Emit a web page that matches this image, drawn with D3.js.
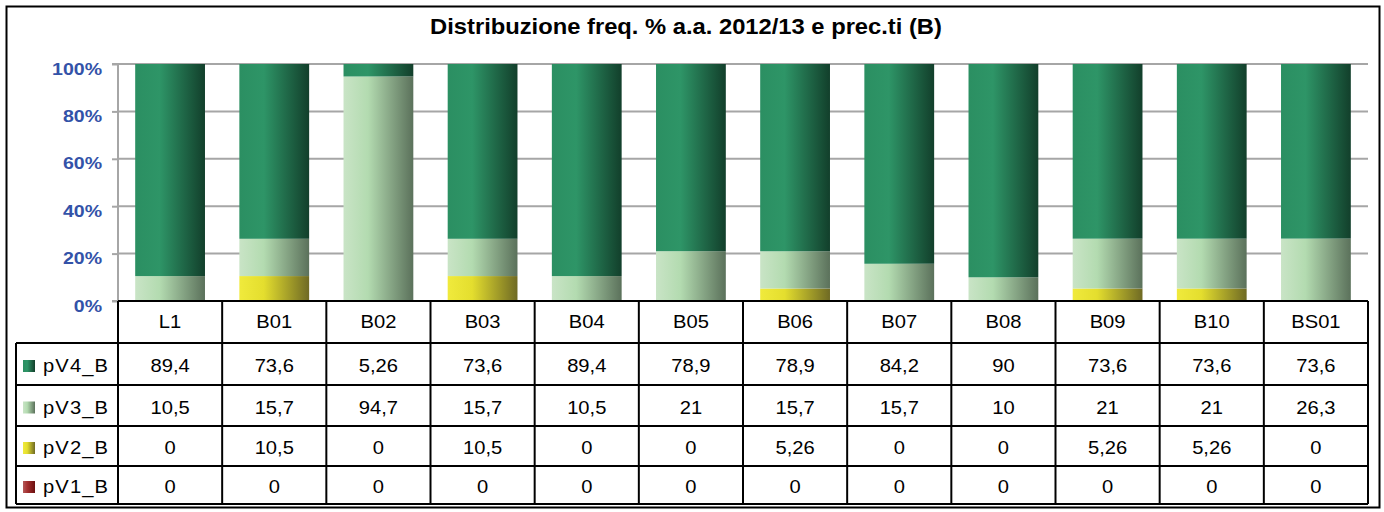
<!DOCTYPE html>
<html><head><meta charset="utf-8">
<script src="https://cdn.jsdelivr.net/npm/d3@7"></script>
<style>body{margin:0;background:#fff}svg{display:block}</style>
</head><body><svg id="c" width="1384" height="512"></svg>
<script>
const categories = ["L1","B01","B02","B03","B04","B05","B06","B07","B08","B09","B10","BS01"];
const pV4_B = [89.4,73.6,5.26,73.6,89.4,78.9,78.9,84.2,90,73.6,73.6,73.6];
const pV3_B = [10.5,15.7,94.7,15.7,10.5,21,15.7,15.7,10,21,21,26.3];
const pV2_B = [0,10.5,0,10.5,0,0,5.26,0,0,5.26,5.26,0];
const pV1_B = [0,0,0,0,0,0,0,0,0,0,0,0];
const seriesNames = ["pV4_B","pV3_B","pV2_B","pV1_B"];
const seriesValues = [pV4_B,pV3_B,pV2_B,pV1_B];
const yTicks = [0,0.2,0.4,0.6,0.8,1];
const title = "Distribuzione freq. % a.a. 2012/13 e prec.ti (B)";

(function(){
const FONT = "Liberation Sans, Arial, sans-serif";
const grads = {
  pV4_B:["#2b8f62","#2e9567","#123f2b"],
  pV3_B:["#c9e4c6","#b3dbb0","#5b715b"],
  pV2_B:["#f0ea3c","#e4de2e","#6f6a24"],
  pV1_B:["#b35a5a","#a53030","#6b1010"]
};

const svg = d3.select("#c");
const defs = svg.append("defs");
Object.entries(grads).forEach(([k,c])=>{
  const g = defs.append("linearGradient").attr("id","g_"+k).attr("x1","0").attr("x2","1").attr("y1","0").attr("y2","0");
  g.append("stop").attr("offset","0").attr("stop-color",c[0]);
  g.append("stop").attr("offset","0.35").attr("stop-color",c[1]);
  g.append("stop").attr("offset","1").attr("stop-color",c[2]);
});

svg.append("rect").attr("x",6.5).attr("y",6.5).attr("width",1373).attr("height",501).attr("fill","#fff").attr("stroke","#000").attr("stroke-width",2);

svg.append("text").attr("transform","translate(686,34) scale(1.08,1)").attr("text-anchor","middle")
  .attr("font-family",FONT).attr("font-weight","bold").attr("font-size",22).text(title);

const pL=118, pR=1368, pT=64, pB=301;
const x = d3.scaleBand().domain(categories).range([pL,pR]).paddingInner(0.33).paddingOuter(0.165);
const xc = d3.scaleBand().domain(categories).range([pL,pR]);
const y = d3.scaleLinear().domain([0,1]).range([pB,pT]);

svg.append("g").selectAll("line").data(yTicks.filter(d=>d>0)).join("line")
  .attr("x1",pL).attr("x2",pR).attr("y1",d=>y(d)).attr("y2",d=>y(d))
  .attr("stroke","#a6a6a6").attr("stroke-width",2);

const ya = svg.append("g").attr("transform",`translate(${pL},0)`)
  .call(d3.axisLeft(y).tickValues(yTicks).tickFormat(d3.format(".0%")).tickSize(6).tickPadding(0));
ya.select(".domain").attr("stroke","#a6a6a6").attr("stroke-width",2).attr("d",`M-6,${pT}H0V${pB}H-6`);
ya.selectAll(".tick line").attr("stroke","#a6a6a6").attr("stroke-width",2);
ya.selectAll(".tick text").attr("fill","#3352a8").attr("font-weight","bold").attr("font-size",17)
  .attr("font-family",FONT).attr("x",null).attr("dy",null)
  .attr("transform","translate(-16,10) scale(1.15,1)");

const rows = categories.map((c,i)=>{const o={cat:c}; seriesNames.forEach((s,j)=>o[s]=seriesValues[j][i]); return o;});
const stack = d3.stack().keys(["pV1_B","pV2_B","pV3_B","pV4_B"]).offset(d3.stackOffsetExpand);
const st = stack(rows);
svg.append("g").selectAll("g").data(st).join("g").attr("fill",d=>`url(#g_${d.key})`)
  .selectAll("rect").data(d=>d).join("rect")
  .attr("x",d=>x(d.data.cat)).attr("width",x.bandwidth())
  .attr("y",d=>y(d[1])).attr("height",d=>Math.max(0,y(d[0])-y(d[1])));

const rowH = [301,343,385,426,466,504];
const legL = 16;
const SX = 1.12;
const tg = svg.append("g").attr("font-family",FONT).attr("font-size",18);
const ln = (x1,y1,x2,y2)=>tg.append("line").attr("x1",x1).attr("y1",y1).attr("x2",x2).attr("y2",y2).attr("stroke","#000").attr("stroke-width",2);
ln(pL,rowH[0],pR,rowH[0]);
for(let r=1;r<rowH.length;r++) ln(legL,rowH[r],pR,rowH[r]);
ln(legL,rowH[1],legL,rowH[5]);
categories.forEach(c=>ln(xc(c),rowH[0],xc(c),rowH[5]));
ln(pR,rowH[0],pR,rowH[5]);

tg.selectAll("text.cat").data(categories).join("text").attr("class","cat")
  .attr("transform",d=>`translate(${xc(d)+xc.bandwidth()/2},${(rowH[0]+rowH[1])/2}) scale(${SX},1)`).attr("dy","0.34em")
  .attr("text-anchor","middle").text(d=>d);

const fmt = v=>String(v).replace(".",",");
seriesNames.forEach((s,j)=>{
  const yc = (rowH[j+1]+rowH[j+2])/2 + 2;
  tg.append("rect").attr("x",23).attr("y",yc-6).attr("width",12).attr("height",12).attr("fill",`url(#g_${s})`);
  tg.append("text").attr("transform",`translate(43,${yc}) scale(${SX},1)`).attr("dy","0.36em").text(s).attr("letter-spacing","1px");
  tg.selectAll(null).data(seriesValues[j]).join("text")
    .attr("transform",(d,i)=>`translate(${xc(categories[i])+xc.bandwidth()/2},${yc}) scale(${SX},1)`).attr("dy","0.36em")
    .attr("text-anchor","middle").text(d=>fmt(d));
});
})();
</script></body></html>
